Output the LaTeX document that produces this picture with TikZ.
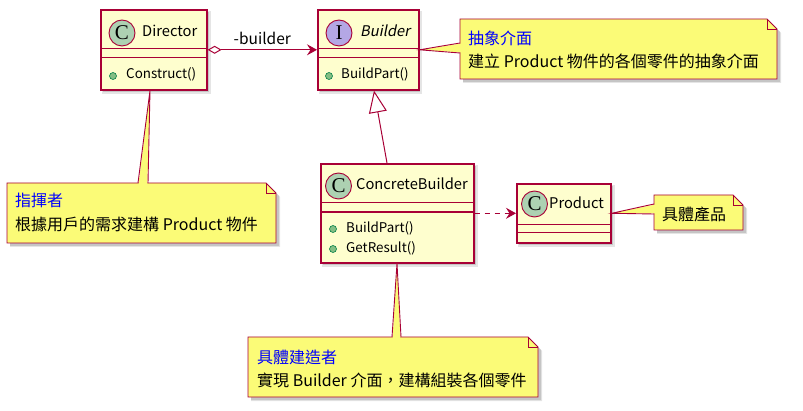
\documentclass[tikz,border=0pt]{standalone}
\usepackage{fontspec}
\setmainfont{Noto Sans CJK TC}
\newfontfamily\slantfont[FakeSlant=0.2]{Noto Sans CJK TC}
\newfontfamily\circfont{Liberation Serif}
\usetikzlibrary{arrows.meta,calc}
\definecolor{umlborder}{HTML}{A80036}
\definecolor{classbg}{HTML}{FEFECE}
\definecolor{notebg}{HTML}{FBFB77}
\definecolor{cbg}{HTML}{ADD1B2}
\definecolor{ibg}{HTML}{B4A7E5}
\definecolor{dotfill}{HTML}{84BE84}
\definecolor{dotline}{HTML}{038048}
\definecolor{titleblue}{HTML}{0000FF}
\begin{document}
\begin{tikzpicture}[x=1pt,y=-1pt,
  classbox/.style={draw=umlborder, fill=classbg, line width=1.6pt, rectangle, inner sep=0pt, anchor=north west},
  classline/.style={draw=umlborder, line width=1.6pt},
  shadowA/.style={fill=black, opacity=0.10},
  shadowB/.style={fill=black, opacity=0.14},
  circ/.style={circle, draw=umlborder, line width=0.9pt, minimum size=26pt, inner sep=0pt, font=\circfont\fontsize{21}{21}\selectfont},
  cname/.style={anchor=base west, inner sep=0pt, font=\fontsize{14.7}{17}\selectfont},
  method/.style={anchor=base west, inner sep=0pt, font=\fontsize{13.4}{16}\selectfont},
  mdot/.style={circle, draw=dotline, fill=dotfill, line width=0.6pt, minimum size=7pt, inner sep=0pt},
  notetxt/.style={anchor=base west, inner sep=0pt, font=\fontsize{16}{19}\selectfont},
  notetitle/.style={notetxt, text=titleblue},
  noteline/.style={draw=umlborder, line width=0.9pt},
  conn/.style={draw=umlborder, line width=1pt}
]
\useasboundingbox (0,0) rectangle (803,411);

% ---------- shadows ----------
\fill[shadowA] (102,11) rectangle (211,94);
\fill[shadowB] (103,12) rectangle (209,92);
\fill[shadowA] (319,11) rectangle (422,94);
\fill[shadowB] (320,12) rectangle (420,92);
\fill[shadowA] (322,165) rectangle (478,267);
\fill[shadowB] (323,166) rectangle (476,265);
\fill[shadowA] (518,185) rectangle (615,247);
\fill[shadowB] (519,186) rectangle (613,245);
% note shadows
\fill[shadowA] (10,186) -- (269,186) -- (280,197) -- (280,247) -- (10,247) -- cycle;
\fill[shadowB] (10,186) -- (269,186) -- (279,196) -- (279,246) -- (10,246) -- cycle;
\fill[shadowA] (463,22) -- (770,22) -- (781,33) -- (781,83) -- (463,83) -- cycle;
\fill[shadowB] (463,22) -- (770,22) -- (780,32) -- (780,82) -- (463,82) -- cycle;
\fill[shadowA] (657,198) -- (736,198) -- (747,209) -- (747,234) -- (657,234) -- cycle;
\fill[shadowB] (657,198) -- (736,198) -- (746,208) -- (746,233) -- (657,233) -- cycle;
\fill[shadowA] (251,340) -- (531,340) -- (542,351) -- (542,401) -- (251,401) -- cycle;
\fill[shadowB] (251,340) -- (531,340) -- (541,350) -- (541,400) -- (251,400) -- cycle;

% ---------- classes ----------
\node[classbox, minimum width=106pt, minimum height=80pt] (director) at (100,9) {};
\draw[classline] (100,48.5) -- (206,48.5) (100,57.5) -- (206,57.5);
\node[circ, fill=cbg] (directorc) at (122,33) {C};
\node[cname] (directorname) at (142,37) {Director};
\node[mdot] (directordot) at (113,76) {};
\node[method] (directorm) at (126,79) {Construct()};

\node[classbox, minimum width=101pt, minimum height=80pt] (builder) at (317,9) {};
\draw[classline] (317,48.5) -- (418,48.5) (317,57.5) -- (418,57.5);
\node[circ, fill=ibg] (builderi) at (339,33) {I};
\node[cname, font=\slantfont\fontsize{14.7}{17}\selectfont] (buildername) at (360,37) {Builder};
\node[mdot] (builderdot) at (329,76) {};
\node[method] (builderm) at (341,79) {BuildPart()};

\node[classbox, minimum width=153pt, minimum height=99pt] (cb) at (320,163) {};
\draw[classline] (320,202.5) -- (473,202.5) (320,212) -- (473,212);
\node[circ, fill=cbg] (cbc) at (338.5,186) {C};
\node[cname] (cbname) at (356,190) {ConcreteBuilder};
\node[mdot] (cbdot1) at (333,229) {};
\node[method] (cbm1) at (346,233) {BuildPart()};
\node[mdot] (cbdot2) at (333,249) {};
\node[method] (cbm2) at (346,253) {GetResult()};

\node[classbox, minimum width=94pt, minimum height=59pt] (product) at (516,183) {};
\draw[classline] (516,224.5) -- (610,224.5) (516,232.5) -- (610,232.5);
\node[circ, fill=cbg] (productc) at (534.5,204) {C};
\node[cname] (productname) at (549,209) {Product};

% ---------- relations ----------
\draw[conn, {Diamond[open, fill=white, length=14pt, width=8pt, umlborder]}-{Stealth[length=10pt, width=11pt, inset=3.5pt, umlborder]}]
  (director.east) -- node[above=5pt, inner sep=0pt, font=\fontsize{15.5}{18}\selectfont, text=black] (lblbuilder) {-builder} (builder.west);
\draw[conn, -{Triangle[open, fill=white, length=22pt, width=18pt, umlborder]}]
  ($(cb.north west)+(67,0)$) -- ($(builder.south west)+(57,0)$);
\draw[conn, dash pattern=on 5pt off 5pt, -{Stealth[length=10pt, width=11pt, inset=3.5pt, umlborder]}]
  (cb.east) -- (product.west);

% ---------- notes ----------
% Director note
\node[inner sep=0pt, minimum width=269pt, minimum height=60pt, anchor=north west] (ndirector) at (7,183) {};
\filldraw[noteline, fill=notebg] (7,183) -- (266,183) -- (276,193) -- (276,243) -- (7,243) -- cycle;
\draw[noteline] (266,183) -- (266,193) -- (276,193);
\coordinate (tipdirector) at ($(director.south west)+(50,0)$);
\fill[notebg] (tipdirector) -- (138.6,184) -- (147.4,184) -- cycle;
\draw[noteline] (138,183) -- (tipdirector) -- (148,183);
\node[notetitle] (ndirector1) at (15,207) {指揮者};
\node[notetxt] (ndirector2) at (15,231) {根據用戶的需求建構 Product 物件};

% Builder note
\node[inner sep=0pt, minimum width=317pt, minimum height=60pt, anchor=north west] (nbuilder) at (460,19) {};
\filldraw[noteline, fill=notebg] (460,19) -- (767,19) -- (777,29) -- (777,79) -- (460,79) -- cycle;
\draw[noteline] (767,19) -- (767,29) -- (777,29);
\fill[notebg] (builder.east) -- (461,43.6) -- (461,52.4) -- cycle;
\draw[noteline] (460,43) -- (builder.east) -- (460,53);
\node[notetitle] (nbuilder1) at (468,45) {抽象介面};
\node[notetxt] (nbuilder2) at (468,68) {建立 Product 物件的各個零件的抽象介面};

% Product note
\node[inner sep=0pt, minimum width=89pt, minimum height=35pt, anchor=north west] (nproduct) at (654,195) {};
\filldraw[noteline, fill=notebg] (654,195) -- (733,195) -- (743,205) -- (743,230) -- (654,230) -- cycle;
\draw[noteline] (733,195) -- (733,205) -- (743,205);
\fill[notebg] (product.east) -- (655,204.6) -- (655,213.4) -- cycle;
\draw[noteline] (654,204) -- (product.east) -- (654,214);
\node[notetxt] (nproduct1) at (662,221) {具體產品};

% ConcreteBuilder note
\node[inner sep=0pt, minimum width=290pt, minimum height=60pt, anchor=north west] (ncb) at (248,337) {};
\filldraw[noteline, fill=notebg] (248,337) -- (528,337) -- (538,347) -- (538,397) -- (248,397) -- cycle;
\draw[noteline] (528,337) -- (528,347) -- (538,347);
\coordinate (tipcb) at ($(cb.south west)+(77,0)$);
\fill[notebg] (tipcb) -- (392.6,338) -- (400.4,338) -- cycle;
\draw[noteline] (392,337) -- (tipcb) -- (401,337);
\node[notetitle] (ncb1) at (257,363) {具體建造者};
\node[notetxt] (ncb2) at (257,387) {實現 Builder 介面，建構組裝各個零件};
\end{tikzpicture}
\end{document}
